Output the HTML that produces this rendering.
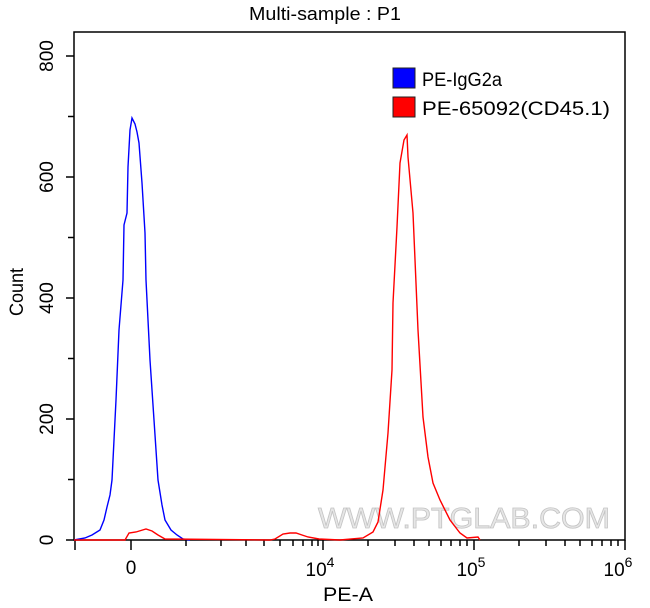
<!DOCTYPE html>
<html><head><style>
body{margin:0;background:#fff;}
svg{display:block;font-family:"Liberation Sans",Arial,sans-serif;}
</style></head><body>
<svg width="650" height="608" viewBox="0 0 650 608">
<text x="325" y="20" font-size="18" text-anchor="middle" textLength="152" lengthAdjust="spacingAndGlyphs">Multi-sample : P1</text>
<rect x="74" y="32" width="551" height="508" fill="none" stroke="#000" stroke-width="1.5"/>
<g stroke="#000" stroke-width="1.5">
<line x1="66" y1="540" x2="74" y2="540"/><line x1="68" y1="479.5" x2="74" y2="479.5"/>
<line x1="66" y1="419" x2="74" y2="419"/><line x1="68" y1="358.5" x2="74" y2="358.5"/>
<line x1="66" y1="298" x2="74" y2="298"/><line x1="68" y1="237.5" x2="74" y2="237.5"/>
<line x1="66" y1="177" x2="74" y2="177"/><line x1="68" y1="116.5" x2="74" y2="116.5"/>
<line x1="66" y1="56" x2="74" y2="56"/>
</g>
<g font-size="19" text-anchor="middle">
<text transform="translate(53,540) rotate(-90)">0</text>
<text transform="translate(53,419) rotate(-90)">200</text>
<text transform="translate(53,298) rotate(-90)">400</text>
<text transform="translate(53,177) rotate(-90)">600</text>
<text transform="translate(53,56) rotate(-90)">800</text>
<text transform="translate(23,292) rotate(-90)" textLength="48" lengthAdjust="spacingAndGlyphs">Count</text>
</g>
<g stroke="#000" stroke-width="1.5">
<line x1="75" y1="540" x2="75" y2="550"/>
<line x1="131" y1="540" x2="131" y2="550"/>
<line x1="323" y1="540" x2="323" y2="550"/>
<line x1="474" y1="540" x2="474" y2="550"/>
<line x1="625" y1="540" x2="625" y2="550"/>
<line x1="186" y1="540" x2="186" y2="546"/><line x1="221" y1="540" x2="221" y2="546"/>
<line x1="246" y1="540" x2="246" y2="546"/><line x1="264" y1="540" x2="264" y2="546"/>
<line x1="280" y1="540" x2="280" y2="546"/><line x1="293" y1="540" x2="293" y2="546"/>
<line x1="303" y1="540" x2="303" y2="546"/><line x1="312" y1="540" x2="312" y2="546"/>
<line x1="318" y1="540" x2="318" y2="546"/>
<line x1="368" y1="540" x2="368" y2="546"/><line x1="395" y1="540" x2="395" y2="546"/>
<line x1="414" y1="540" x2="414" y2="546"/><line x1="429" y1="540" x2="429" y2="546"/>
<line x1="441" y1="540" x2="441" y2="546"/><line x1="451" y1="540" x2="451" y2="546"/>
<line x1="460" y1="540" x2="460" y2="546"/><line x1="467" y1="540" x2="467" y2="546"/>
<line x1="519" y1="540" x2="519" y2="546"/><line x1="546" y1="540" x2="546" y2="546"/>
<line x1="565" y1="540" x2="565" y2="546"/><line x1="580" y1="540" x2="580" y2="546"/>
<line x1="592" y1="540" x2="592" y2="546"/><line x1="602" y1="540" x2="602" y2="546"/>
<line x1="611" y1="540" x2="611" y2="546"/><line x1="618" y1="540" x2="618" y2="546"/>
</g>
<g font-size="19" text-anchor="middle">
<text x="131" y="574">0</text>
<text x="320" y="576">10<tspan font-size="14" dy="-9">4</tspan></text>
<text x="471" y="576">10<tspan font-size="14" dy="-9">5</tspan></text>
<text x="618" y="576">10<tspan font-size="14" dy="-9">6</tspan></text>
<text x="348" y="601" textLength="50" lengthAdjust="spacingAndGlyphs">PE-A</text>
</g>
<text x="318" y="528" font-size="29" fill="#e6e6e6" stroke="#c4c4c4" stroke-width="0.8" textLength="292" lengthAdjust="spacingAndGlyphs">WWW.PTGLAB.COM</text>
<polyline fill="none" stroke="#0000ff" stroke-width="1.4" points="74,540 85,538 92,535 100,530 104,520 107,507 110,495 112,480 116,400 119,330 123,280 124,225 127,213 128,167 130,130 132,118 135,124 137,132 139,143 142,183 145,233 146,280 150,360 154,420 158,480 162,505 165,520 171,530 177,535 183,539 190,540"/>
<polyline fill="none" stroke="#ff0000" stroke-width="1.4" points="74,540 125,540 129,533 136,532 146,529 152,531 158,535 165,539 270,540 275,539 283,534 290,533 296,533 302,535 308,537 319,539 340,540 363,538 373,532 378,522 383,490 388,433 392,370 393,303 397,227 400,163 404,140 407,135 408,157 413,213 418,330 423,417 428,457 433,483 440,500 450,520 460,533 467,538 478,537 480,540"/>
<rect x="393" y="68" width="22" height="20" fill="#0000ff" stroke="#222" stroke-width="1"/>
<rect x="393" y="97" width="22" height="20" fill="#ff0000" stroke="#222" stroke-width="1"/>
<text x="422" y="86" font-size="19" textLength="80" lengthAdjust="spacingAndGlyphs">PE-IgG2a</text>
<text x="422" y="115" font-size="19" textLength="188" lengthAdjust="spacingAndGlyphs">PE-65092(CD45.1)</text>
</svg>
</body></html>
